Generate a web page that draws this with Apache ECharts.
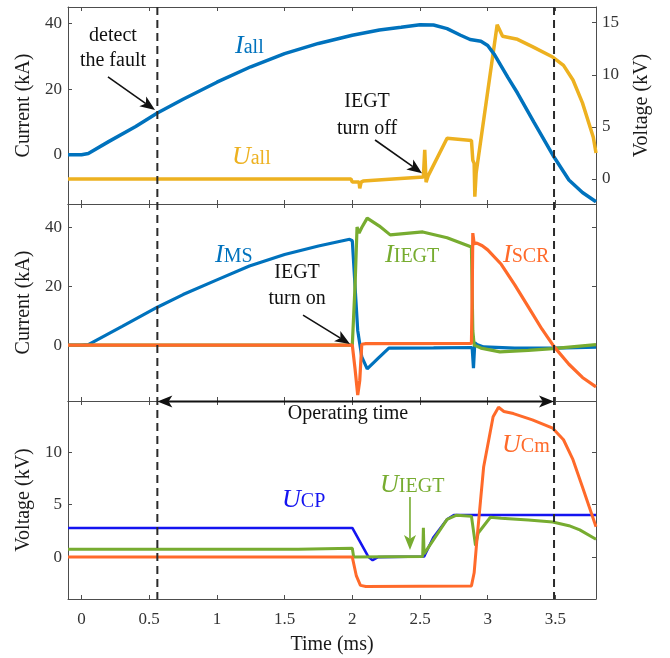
<!DOCTYPE html>
<html><head><meta charset="utf-8">
<script src="https://cdn.jsdelivr.net/npm/echarts@6/dist/echarts.min.js"></script>
<style>html,body{margin:0;padding:0;background:#fff}#c{width:670px;height:658px}</style>
</head><body><div id="c"></div><script>
// ---------- data (time in ms) ----------
const xTicks = [0, 0.5, 1, 1.5, 2, 2.5, 3, 3.5];
// top panel: total current (kA) and total voltage (kV)
const tAll = [-0.1, 0, 0.05, 0.2, 0.4, 0.56, 0.75, 1.0, 1.25, 1.5, 1.75, 2.0, 2.2, 2.36, 2.5, 2.6, 2.7, 2.8, 2.87, 2.95, 3.0, 3.05, 3.15, 3.22, 3.34, 3.49, 3.6, 3.7, 3.8];
const iAll = [0, 0, 0.4, 4.0, 8.6, 12.7, 16.9, 22.1, 26.8, 30.8, 33.9, 36.4, 38.0, 38.8, 39.6, 39.5, 38.4, 36.4, 35.1, 34.6, 33.3, 30.5, 23.5, 18.8, 10.0, -0.7, -7.7, -11.5, -14.3];
const tUall = [-0.1, 1.99, 2.0, 2.05, 2.055, 2.065, 2.08, 2.3, 2.525, 2.53, 2.535, 2.545, 2.56, 2.7, 2.88, 2.89, 2.9, 2.905, 2.915, 3.07, 3.11, 3.22, 3.33, 3.48, 3.56, 3.63, 3.7, 3.78, 3.8];
const uAll = [0.0, 0.0, -0.3, -0.3, -0.9, -0.3, -0.2, 0.0, 0.2, 0.3, 2.8, -0.3, 0.3, 3.9, 3.7, 1.8, 1.5, -1.7, 0.6, 14.8, 13.7, 13.4, 12.7, 11.7, 10.9, 9.5, 7.3, 4.0, 2.5];
// middle panel: branch currents (kA)
const tMS = [-0.1, 0.0, 0.05, 0.3, 0.56, 0.75, 1.0, 1.24, 1.5, 1.75, 1.98, 2.0, 2.04, 2.07, 2.11, 2.19, 2.27, 2.6, 2.885, 2.895, 2.905, 2.92, 2.97, 3.2, 3.5, 3.8];
const iMS = [0, 0, 0.2, 6.4, 12.9, 17.2, 22.2, 26.9, 30.8, 33.7, 36.0, 35.5, 5.0, -4.0, -8.1, -4.5, -1.0, -0.9, -0.8, -7.8, 0.8, 0.2, -0.6, -1.0, -1.0, -0.7];
const tIEGT = [-0.1, 2.0, 2.02, 2.035, 2.05, 2.07, 2.11, 2.2, 2.28, 2.52, 2.7, 2.88, 2.89, 2.9, 2.95, 3.09, 3.3, 3.48, 3.8];
const iIEGT = [0, 0, 20, 40.2, 38.1, 40.0, 43.2, 40.5, 37.5, 38.5, 36.5, 33.4, 5.0, 0.0, -1.0, -2.3, -1.8, -1.2, 0.2];
const tSCR = [-0.1, 2.0, 2.02, 2.04, 2.055, 2.07, 2.1, 2.88, 2.885, 2.89, 2.9, 2.92, 2.96, 3.0, 3.1, 3.2, 3.3, 3.4, 3.49, 3.6, 3.7, 3.8];
const iSCR = [0, 0, -8, -17, -12, 0.3, 0.5, 0.6, 15, 38.1, 34.5, 34.7, 33.8, 32.4, 27.5, 20.5, 13.0, 5.5, -0.5, -6.5, -11.0, -14.2];
// bottom panel: voltages (kV)
const tCP = [-0.1, 2.0, 2.12, 2.15, 2.19, 2.53, 2.6, 2.7, 2.75, 3.8];
const uCP = [2.78, 2.78, 0.0, -0.3, 0.0, 0.05, 1.9, 3.6, 4.02, 4.02];
const tUIEGT = [-0.1, 1.6, 1.61, 2.0, 2.01, 2.52, 2.525, 2.53, 2.54, 2.7, 2.77, 2.88, 2.895, 2.91, 2.93, 3.02, 3.1, 3.3, 3.48, 3.6, 3.68, 3.8];
const uIEGT = [0.75, 0.75, 0.85, 0.85, 0.0, 0.05, 2.8, 0.3, 0.2, 3.6, 4.0, 3.9, 2.5, 1.1, 2.3, 3.8, 3.7, 3.55, 3.35, 3.0, 2.6, 1.7];
const tCm = [-0.1, 2.0, 2.03, 2.06, 2.1, 2.88, 2.9, 2.92, 2.97, 3.04, 3.08, 3.12, 3.19, 3.33, 3.48, 3.56, 3.63, 3.7, 3.8];
const uCm = [0, 0, -1.8, -2.7, -2.8, -2.75, -1.5, 1.6, 8.6, 13.4, 14.3, 13.9, 13.7, 13.1, 12.3, 11.2, 9.3, 6.7, 2.9];
// markers
const markerTimes = [0.56, 3.49];

// ---------- styling ----------
const FONT = '"Liberation Serif","Times New Roman",serif';
const AX = '#4d4d4d';
const C_BLUE = '#0072BD', C_YEL = '#EDB120', C_GRN = '#77AC30', C_ORG = '#FF6A2A', C_BLUE2 = '#1414F0';

const pairs = (t, v) => t.map((x, i) => [x, v[i]]);

function xAxes(g) {
  const base = {
    type: 'value', gridIndex: g, min: -0.1, max: 3.8, splitLine: {show: false},
    axisLine: {show: true, onZero: false, lineStyle: {color: AX, width: 1}},
    axisTick: {show: true, inside: true, length: 4, customValues: xTicks, lineStyle: {color: AX}}
  };
  return [
    Object.assign({}, base, {
      position: 'bottom',
      axisLabel: {show: g === 2, customValues: xTicks, margin: 12, fontFamily: FONT, fontSize: 17, color: '#333'},
      name: g === 2 ? 'Time (ms)' : '', nameLocation: 'middle', nameGap: 36,
      nameTextStyle: {fontFamily: FONT, fontSize: 20, color: '#1a1a1a'}
    }),
    Object.assign({}, base, {position: 'top', axisLabel: {show: false}})
  ];
}
function yAx(g, pos, min, max, ticks, name, labels, gap) {
  return {
    type: 'value', gridIndex: g, position: pos, min: min, max: max, splitLine: {show: false},
    axisLine: {show: true, onZero: false, lineStyle: {color: AX, width: 1}},
    axisTick: {show: true, inside: true, length: 4, customValues: ticks, lineStyle: {color: AX}},
    axisLabel: {show: labels, customValues: ticks, margin: 6, fontFamily: FONT, fontSize: 17, color: '#333'},
    name: name, nameLocation: 'middle', nameGap: gap, nameRotate: pos === 'left' ? 90 : 90,
    nameTextStyle: {fontFamily: FONT, fontSize: 20, color: '#1a1a1a'}
  };
}
function line(xi, yi, data, color, w, z) {
  return {type: 'line', xAxisIndex: xi, yAxisIndex: yi, data: data, showSymbol: false, symbol: 'none',
    lineStyle: {color: color, width: w}, z: z || 2, animation: false, silent: true};
}

const chart = echarts.init(document.getElementById('c'), null, {renderer: 'canvas'});
chart.setOption({
  backgroundColor: '#fff',
  animation: false,
  grid: [
    {left: 68, right: 74, top: 7, height: 197},
    {left: 68, right: 74, top: 204, height: 197},
    {left: 68, right: 74, top: 401, height: 198}
  ],
  xAxis: [].concat(xAxes(0), xAxes(1), xAxes(2)),
  yAxis: [
    yAx(0, 'left', -15, 45, [0, 20, 40], 'Current (kA)', true, 34),
    yAx(0, 'right', -2.4, 16.5, [0, 5, 10, 15], 'Voltage (kV)', true, 36),
    yAx(1, 'left', -19, 48, [0, 20, 40], 'Current (kA)', true, 34),
    yAx(1, 'right', -19, 48, [0, 20, 40], '', false, 0),
    yAx(2, 'left', -4, 14.9, [0, 5, 10], 'Voltage (kV)', true, 34),
    yAx(2, 'right', -4, 14.9, [0, 5, 10], '', false, 0)
  ],
  series: [
    line(0, 1, pairs(tUall, uAll), C_YEL, 3.5),
    line(0, 0, pairs(tAll, iAll), C_BLUE, 3.5),
    line(2, 2, pairs(tMS, iMS), C_BLUE, 3.2),
    line(2, 2, pairs(tIEGT, iIEGT), C_GRN, 3.2),
    line(2, 2, pairs(tSCR, iSCR), C_ORG, 3.2),
    line(4, 4, pairs(tCP, uCP), C_BLUE2, 2.6),
    line(4, 4, pairs(tUIEGT, uIEGT), C_GRN, 3),
    line(4, 4, pairs(tCm, uCm), C_ORG, 3)
  ]
});

// ---------- annotations (in data coordinates) ----------
const P = (g, t, v) => chart.convertToPixel({xAxisIndex: g * 2, yAxisIndex: g * 2}, [t, v]);
const notes = [
  {g: 0, t: 0.232, v: 34.3, text: 'detect', align: 'center'},
  {g: 0, t: 0.232, v: 26.7, text: 'the fault', align: 'center'},
  {g: 0, t: 2.109, v: 14.2, text: 'IEGT', align: 'center'},
  {g: 0, t: 2.109, v: 6.0, text: 'turn off', align: 'center'},
  {g: 1, t: 1.592, v: 22.5, text: 'IEGT', align: 'center'},
  {g: 1, t: 1.592, v: 13.6, text: 'turn on', align: 'center'},
  {g: 2, t: 1.968, v: 13.1, text: 'Operating time', align: 'center'}
];
const labels = [
  {g: 0, t: 1.134, v: 30.7, m: 'I', s: 'all', c: C_BLUE},
  {g: 0, t: 1.111, v: -3.1, m: 'U', s: 'all', c: C_YEL},
  {g: 1, t: 0.986, v: 27.9, m: 'I', s: 'MS', c: C_BLUE},
  {g: 1, t: 2.242, v: 27.9, m: 'I', s: 'IEGT', c: C_GRN},
  {g: 1, t: 3.113, v: 27.9, m: 'I', s: 'SCR', c: C_ORG},
  {g: 2, t: 1.481, v: 4.69, m: 'U', s: 'CP', c: C_BLUE2},
  {g: 2, t: 2.205, v: 6.12, m: 'U', s: 'IEGT', c: C_GRN},
  {g: 2, t: 3.106, v: 9.94, m: 'U', s: 'Cm', c: C_ORG}
];
const arrows = [
  {g: 0, a: [0.195, 23.7], b: [0.543, 13.6], c: '#111'},
  {g: 0, a: [2.168, 4.5], b: [2.515, -5.6], c: '#111'},
  {g: 1, a: [1.636, 10.2], b: [1.983, 0.4], c: '#111'},
  {g: 2, a: [2.426, 5.74], b: [2.426, 0.68], c: C_GRN}
];
const opArrow = {g: 2, t0: markerTimes[0], t1: markerTimes[1], v: 14.85};

const gfx = [];
function head(tip, from, color, len, hw) {
  const dx = tip[0] - from[0], dy = tip[1] - from[1];
  const L = Math.hypot(dx, dy), ux = dx / L, uy = dy / L, px = -uy, py = ux;
  const bx = tip[0] - ux * len, by = tip[1] - uy * len;
  const nx = tip[0] - ux * len * 0.75, ny = tip[1] - uy * len * 0.75;
  gfx.push({type: 'polygon', silent: true, z: 100, shape: {points: [
    tip, [bx + px * hw, by + py * hw], [nx, ny], [bx - px * hw, by - py * hw]]},
    style: {fill: color}});
  return [nx, ny];
}
function arrowLine(a, b, color, w) {
  const n = head(b, a, color, 15, 6);
  gfx.push({type: 'line', silent: true, z: 99, shape: {x1: a[0], y1: a[1], x2: n[0], y2: n[1]},
    style: {stroke: color, lineWidth: w}});
}
// dashed markers across all panels
markerTimes.forEach(t => {
  const top = P(0, t, 45), bot = P(2, t, -4);
  gfx.push({type: 'line', silent: true, z: 98, shape: {x1: top[0], y1: top[1], x2: bot[0], y2: bot[1]},
    style: {stroke: '#2a2a2a', lineWidth: 2, lineDash: [8, 5]}});
});
notes.forEach(n => {
  const p = P(n.g, n.t, n.v);
  gfx.push({type: 'text', silent: true, z: 101, x: p[0], y: p[1] + 4,
    style: {text: n.text, fontFamily: FONT, fontSize: 20, fill: '#111', align: n.align, verticalAlign: 'bottom'}});
});
labels.forEach(l => {
  const p = P(l.g, l.t, l.v);
  gfx.push({type: 'text', silent: true, z: 101, x: p[0], y: p[1] + 5,
    style: {text: '{m|' + l.m + '}{s|' + l.s + '}', fill: l.c, align: 'left', verticalAlign: 'bottom',
      rich: {
        m: {fontFamily: FONT, fontStyle: 'italic', fontSize: 26, fill: l.c, verticalAlign: 'bottom'},
        s: {fontFamily: FONT, fontSize: 20, fill: l.c, verticalAlign: 'bottom', padding: [0, 0, 1, 0]}
      }}});
});
arrows.forEach(a => arrowLine(P(a.g, a.a[0], a.a[1]), P(a.g, a.b[0], a.b[1]), a.c, 1.6));
// operating time double arrow
(function () {
  const l = P(opArrow.g, opArrow.t0, opArrow.v), r = P(opArrow.g, opArrow.t1, opArrow.v);
  const nl = head(l, r, '#111', 15, 6), nr = head(r, l, '#111', 15, 6);
  gfx.push({type: 'line', silent: true, z: 99, shape: {x1: nl[0], y1: nl[1], x2: nr[0], y2: nr[1]},
    style: {stroke: '#111', lineWidth: 2}});
})();
chart.setOption({graphic: gfx});
</script></body></html>
